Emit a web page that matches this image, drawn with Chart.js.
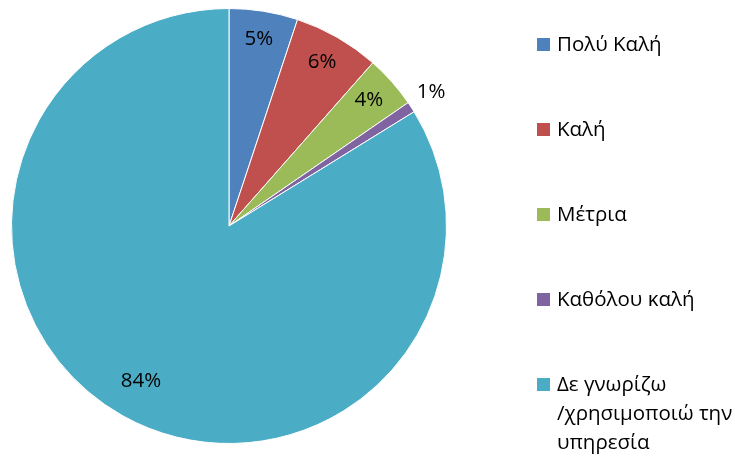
<!DOCTYPE html>
<html lang="el">
<head>
<meta charset="UTF-8">
<title>Pie</title>
<style>
  body { margin: 0; background: #fff; }
  #wrap { width: 735px; height: 456px; }
</style>
</head>
<body>
<div id="wrap"><canvas id="myChart" width="735" height="456"></canvas></div>
<script src="https://cdn.jsdelivr.net/npm/chart.js@4.4.1/dist/chart.umd.min.js"></script>
<script>
var categories = ['Πολύ Καλή', 'Καλή', 'Μέτρια', 'Καθόλου καλή', 'Δε γνωρίζω /χρησιμοποιώ την υπηρεσία'];
var legendLines = [['Πολύ Καλή'], ['Καλή'], ['Μέτρια'], ['Καθόλου καλή'], ['Δε γνωρίζω', '/χρησιμοποιώ την', 'υπηρεσία']];
var percents = [5.1, 6.4, 3.9, 0.8, 83.8];
var colors = ['#4F81BD', '#C0504D', '#9BBB59', '#8064A2', '#4BACC6'];

var FONT = '20.5px "Open Sans", "Noto Sans", sans-serif';

// percentage labels, placed from each arc's own geometry
var sliceLabels = {
  id: 'sliceLabels',
  afterDatasetsDraw: function (chart) {
    var ctx = chart.ctx;
    var meta = chart.getDatasetMeta(0);
    ctx.save();
    ctx.font = FONT;
    ctx.fillStyle = '#000';
    ctx.textAlign = 'center';
    ctx.textBaseline = 'middle';
    meta.data.forEach(function (arc, i) {
      var p = arc.getProps(['x', 'y', 'startAngle', 'endAngle', 'outerRadius'], true);
      var mid = (p.startAngle + p.endAngle) / 2;
      var f = percents[i] < 2 ? 1.11 : (percents[i] > 50 ? 0.83 : 0.86);
      var x = p.x + Math.cos(mid) * p.outerRadius * f;
      var y = p.y + Math.sin(mid) * p.outerRadius * f;
      ctx.fillText(Math.round(percents[i]) + '%', x, y - 2);
    });
    ctx.restore();
  }
};

// legend on the right like the original
var sideLegend = {
  id: 'sideLegend',
  afterDraw: function (chart) {
    var ctx = chart.ctx;
    ctx.save();
    ctx.font = FONT;
    ctx.textBaseline = 'middle';
    for (var i = 0; i < categories.length; i++) {
      var y = 45 + i * 85;
      ctx.fillStyle = colors[i];
      ctx.fillRect(537, y - 7, 13, 13);
      ctx.fillStyle = '#000';
      legendLines[i].forEach(function (line, j) {
        ctx.fillText(line, 557, y + j * 29);
      });
    }
    ctx.restore();
  }
};

new Chart(document.getElementById('myChart'), {
  type: 'pie',
  data: {
    labels: categories,
    datasets: [{
      data: percents,
      backgroundColor: colors,
      borderColor: '#fff',
      borderWidth: 1
    }]
  },
  options: {
    responsive: false,
    animation: false,
    layout: { padding: { left: 11, right: 288, top: 7, bottom: 11 } },
    plugins: {
      legend: { display: false },
      tooltip: { enabled: false }
    }
  },
  plugins: [sliceLabels, sideLegend]
});
</script>
</body>
</html>
